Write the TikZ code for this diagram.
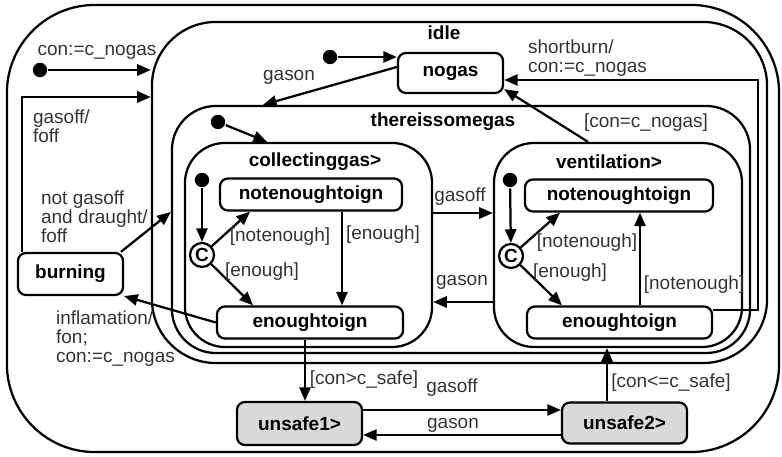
\documentclass[tikz,border=0pt]{standalone}
\usepackage{fontspec}
\setmainfont{Liberation Sans}
\usetikzlibrary{arrows.meta}
\newcommand{\lblfont}{\fontsize{13.5}{13.5}\selectfont}

\begin{document}
\begin{tikzpicture}[x=0.025cm,y=-0.025cm,line width=1.6pt,>={Triangle[length=3.4mm,width=2.8mm]},
    group node/.style={draw,inner sep=0pt},
    state node/.style={draw,rounded corners=0.2cm,inner sep=0pt,font=\lblfont\bfseries},
    unsafe node/.style={state node,fill=gray!30},
    init node/.style={circle,fill,inner sep=0pt,minimum size=0.36cm},
    cond node/.style={circle,draw,inner sep=0pt,minimum size=0.6cm,font=\lblfont\bfseries},
    title node/.style={inner sep=0pt,font=\lblfont\bfseries},
    label node/.style={inner sep=0pt,text=black!80,font=\lblfont},
    tr/.style={->}]
  \useasboundingbox (0,0) rectangle (782,457);

  % nested superstates
  \node[group node,rounded corners=2.2cm,minimum width=19.3cm,minimum height=11.175cm] (top) at (393,228.5) {};
  \node[group node,rounded corners=1.6cm,minimum width=15.375cm,minimum height=8.525cm] (idle) at (459.5,192.5) {};
  \node[group node,rounded corners=1.1cm,minimum width=14.45cm,minimum height=6.175cm] (some) at (461,229.5) {};
  \node[group node,rounded corners=1cm,minimum width=6.175cm,minimum height=5.1cm] (coll) at (308.5,245) {};
  \node[group node,rounded corners=1cm,minimum width=6.2cm,minimum height=5.1cm] (vent) at (618,245) {};
  \node[title node] (tidle) at (444,33) {idle};
  \node[title node] (tsome) at (443,122) {thereissomegas};
  \node[title node] (tcoll) at (315,162) {collectinggas>};
  \node[title node] (tvent) at (609,162) {ventilation>};

  % basic states
  \node[state node,minimum width=2.625cm,minimum height=1cm] (nogas) at (450.5,73) {nogas};
  \node[state node,minimum width=2.625cm,minimum height=1.05cm] (burning) at (70.5,274) {burning};
  \node[state node,minimum width=4.55cm,minimum height=0.8cm] (nei1) at (311,194.5) {notenoughtoign};
  \node[state node,minimum width=4.65cm,minimum height=0.8cm] (ei1) at (310,322.5) {enoughtoign};
  \node[state node,minimum width=4.7cm,minimum height=0.8cm] (nei2) at (619,195.5) {notenoughtoign};
  \node[state node,minimum width=4.625cm,minimum height=0.8cm] (ei2) at (619.5,322.5) {enoughtoign};
  \node[unsafe node,minimum width=3.125cm,minimum height=1.075cm] (unsafe1) at (299.5,423.5) {unsafe1>};
  \node[unsafe node,minimum width=3.125cm,minimum height=1.025cm] (unsafe2) at (624.5,423) {unsafe2>};

  % default and condition connectors
  \node[init node] (i0) at (40,70) {};
  \node[init node] (i1) at (330,57) {};
  \node[init node] (i2) at (218,122) {};
  \node[init node] (i3) at (202,180) {};
  \node[init node] (i4) at (510,180) {};
  \node[cond node] (c1) at (202,255) {C};
  \node[cond node] (c2) at (511,256) {C};
  \coordinate (sb) at (758,80);

  \draw[tr] (i0) -- (i0 -| idle.west);
  \draw[tr] ([xshift=0.125cm]burning.north west) |- (idle.west |- 0,97);
  \draw[tr] ([xshift=-0.08cm]burning.north east) -- (some.west |- 0,212);
  \draw[tr] (ei1.west) -- (burning.south east);
  \draw[tr] (i1) -- (i1 -| nogas.west);
  \draw[tr] ([yshift=0.15cm]nogas.west) -- (some.north -| 263,0);
  \draw[tr] (i2) -- (coll.north -| 267,0);
  \draw[tr] (i3) -- (c1);
  \draw[tr] (c1) -- (nei1.south -| 250,0);
  \draw[tr] (c1) -- (ei1.north -| 253,0);
  \draw[tr] (nei1.south -| 342,0) -- (ei1.north -| 342,0);
  \draw[tr] (coll.east |- 0,213) -- (vent.west |- 0,213);
  \draw[tr] (vent.west |- 0,302) -- (coll.east |- 0,302);
  \draw[tr] (i4) -- (c2);
  \draw[tr] (c2) -- (nei2.south -| 560,0);
  \draw[tr] (c2) -- (ei2.north -| 562,0);
  \draw[tr] (ei2.north -| 640,0) -- (nei2.south -| 640,0);
  \draw[tr] (vent.north -| 588,0) -- ([yshift=0.125cm]nogas.south east);
  \draw[tr] (ei2.east |- 0,310) -| (sb) -- (nogas.east |- sb);
  \draw[tr] (ei1.south -| 305,0) -- (unsafe1.north -| 305,0);
  \draw[tr] (unsafe1.east |- 0,410) -- (unsafe2.west |- 0,410);
  \draw[tr] (unsafe2.west |- 0,435) -- (unsafe1.east |- 0,435);
  \draw[tr] (unsafe2.north -| 607,0) -- (vent.south -| 607,0);

  % transition labels
  \node[label node] (l1) at (97,52) {con:=c\_nogas};
  \node[label node,align=left,anchor=west] (l2) at (32,126) {gasoff/\\foff};
  \node[label node,align=left,anchor=west] (l3) at (40,217) {not gasoff\\and draught/\\foff};
  \node[label node,align=left,anchor=west] (l4) at (55,339) {inflamation/\\fon;\\con:=c\_nogas};
  \node[label node] (l5) at (289,77) {gason};
  \node[label node,align=left,anchor=west] (l6) at (527,58) {shortburn/\\con:=c\_nogas};
  \node[label node] (l7) at (646,123) {[con=c\_nogas]};
  \node[label node] (l8) at (280,237) {[notenough]};
  \node[label node] (l9) at (262,272) {[enough]};
  \node[label node] (l10) at (383,235) {[enough]};
  \node[label node] (l11) at (460,197) {gasoff};
  \node[label node] (l12) at (462,282) {gason};
  \node[label node] (l13) at (587,243) {[notenough]};
  \node[label node] (l14) at (570,273) {[enough]};
  \node[label node] (l15) at (694,285) {[notenough]};
  \node[label node] (l16) at (364,380) {[con>c\_safe]};
  \node[label node] (l17) at (452,388) {gasoff};
  \node[label node] (l18) at (453,425) {gason};
  \node[label node] (l19) at (671,383) {[con<=c\_safe]};
\end{tikzpicture}
\end{document}
